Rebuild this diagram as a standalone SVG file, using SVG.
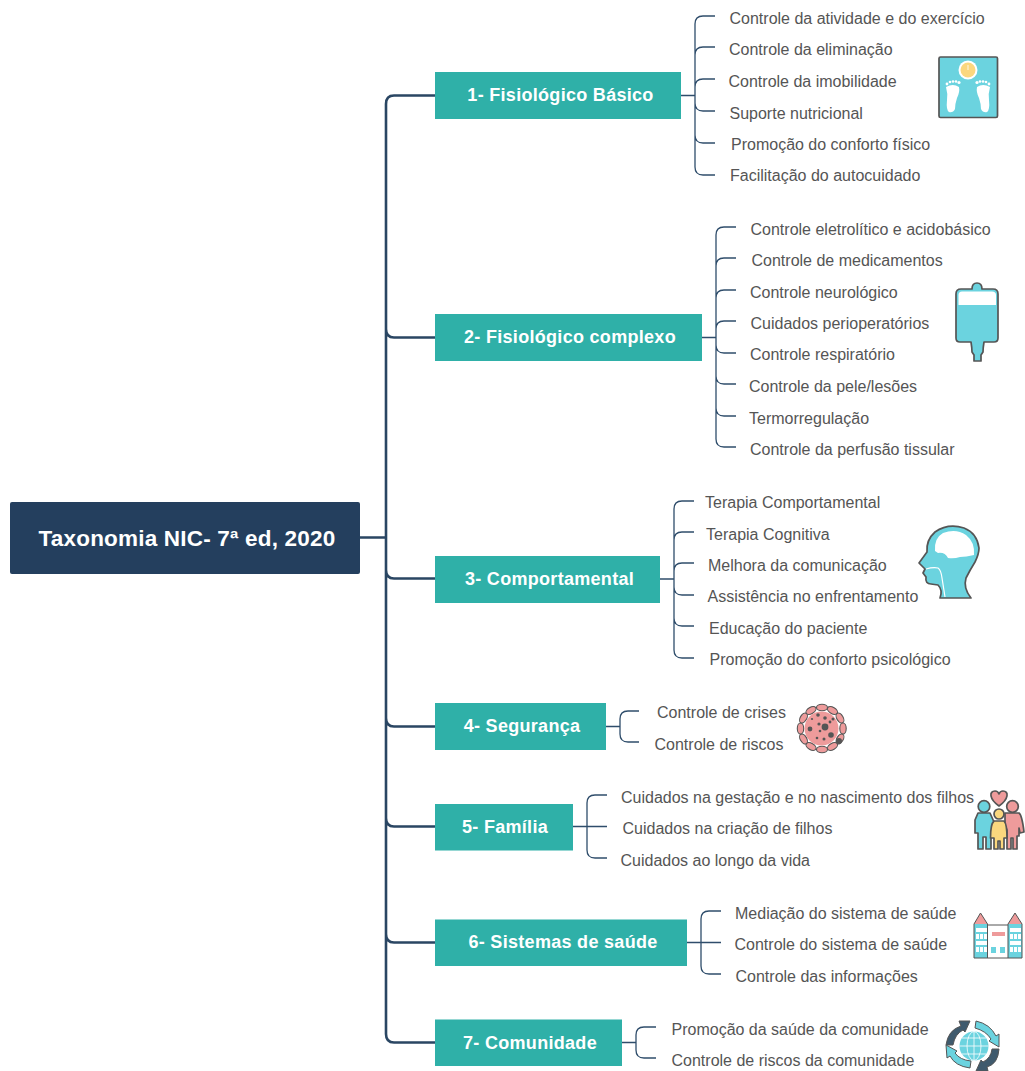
<svg xmlns="http://www.w3.org/2000/svg" width="1025" height="1071" viewBox="0 0 1025 1071">
<style>
text{font-family:"Liberation Sans",Arial,sans-serif}
.root{fill:#243f5e}
.box{fill:#2fb0a8}
.rt{fill:#fff;font-size:22.5px;font-weight:700;text-anchor:middle;letter-spacing:.2px}
.bt{fill:#fff;font-size:18px;font-weight:700;text-anchor:middle;letter-spacing:.3px}
.lt{fill:#555;font-size:16px}
.main{fill:none;stroke:#2a4663;stroke-width:2.6}
.sub{fill:none;stroke:#2f4d6b;stroke-width:1.3}
.o{stroke:#555;stroke-width:1.7;stroke-linejoin:round;stroke-linecap:round}
.c{fill:#6bd3df}.w{fill:#fff}.p{fill:#ee9b9b}.y{fill:#fbd77e}.d{fill:#555}.n{fill:#3f5a6d}
</style>
<g id="connectors">
<path class="main" d="M360 537.500H386M435 95.500H394Q386 95.500 386 104V1034Q386 1042.500 394 1042.500H435M386 329Q386 337.500 394 337.500H435M386 570Q386 578.500 394 578.500H435M386 718Q386 726.500 394 726.500H435M386 818Q386 826.500 394 826.500H435M386 934Q386 942.500 394 942.500H435"/>
<path class="sub" d="M681 95.500H695M715 16H703Q695 16 695 24V167Q695 175 703 175H715M715 47H703Q695 47 695 55M715 79H703Q695 79 695 87M715 111H703Q695 111 695 103M715 143H703Q695 143 695 135"/>
<path class="sub" d="M702 337.500H716M736 227H724Q716 227 716 235V439Q716 447 724 447H736M736 258H724Q716 258 716 266M736 290H724Q716 290 716 298M736 321H724Q716 321 716 329M736 353H724Q716 353 716 345M736 384H724Q716 384 716 376M736 416H724Q716 416 716 408"/>
<path class="sub" d="M660 579H674M694 501H682Q674 501 674 509V650Q674 658 682 658H694M694 532H682Q674 532 674 540M694 563H682Q674 563 674 571M694 595H682Q674 595 674 587M694 626H682Q674 626 674 618"/>
<path class="sub" d="M606 726.500H620M639 711H628Q620 711 620 719V734Q620 742 628 742H639"/>
<path class="sub" d="M573 826.500H607M607 795H595Q587 795 587 803V850Q587 858 595 858H607"/>
<path class="sub" d="M687 942.500H721M721 911H709Q701 911 701 919V966Q701 974 709 974H721"/>
<path class="sub" d="M622 1042.500H636M656 1027H644Q636 1027 636 1035V1050Q636 1058 644 1058H656"/>
</g>
<g id="root"><rect class="root" x="10" y="502" width="350" height="72" rx="2"/><text class="rt" x="187" y="546">Taxonomia NIC- 7ª ed, 2020</text></g>
<g id="node-1"><rect class="box" x="435" y="72" width="246" height="47"/><text class="bt" x="560.500" y="101">1- Fisiológico Básico</text>
<text class="lt" x="729.500" y="24">Controle da atividade e do exercício</text><text class="lt" x="729" y="55">Controle da eliminação</text><text class="lt" x="728.500" y="87">Controle da imobilidade</text><text class="lt" x="729.500" y="119">Suporte nutricional</text><text class="lt" x="731" y="150">Promoção do conforto físico</text><text class="lt" x="730" y="181">Facilitação do autocuidado</text></g>
<g id="node-2"><rect class="box" x="435" y="314" width="267" height="47"/><text class="bt" x="570" y="343">2- Fisiológico complexo</text>
<text class="lt" x="750.500" y="235">Controle eletrolítico e acidobásico</text><text class="lt" x="751.500" y="266">Controle de medicamentos</text><text class="lt" x="750" y="298">Controle neurológico</text><text class="lt" x="750.500" y="329">Cuidados perioperatórios</text><text class="lt" x="750" y="360">Controle respiratório</text><text class="lt" x="749" y="392">Controle da pele/lesões</text><text class="lt" x="749" y="424">Termorregulação</text><text class="lt" x="750" y="455">Controle da perfusão tissular</text></g>
<g id="node-3"><rect class="box" x="435" y="556" width="225" height="47"/><text class="bt" x="549.500" y="585">3- Comportamental</text>
<text class="lt" x="705" y="508">Terapia Comportamental</text><text class="lt" x="706" y="540">Terapia Cognitiva</text><text class="lt" x="708" y="571">Melhora da comunicação</text><text class="lt" x="707.500" y="602">Assistência no enfrentamento</text><text class="lt" x="709" y="634">Educação do paciente</text><text class="lt" x="709.500" y="665">Promoção do conforto psicológico</text></g>
<g id="node-4"><rect class="box" x="435" y="703" width="171" height="47"/><text class="bt" x="522" y="732">4- Segurança</text>
<text class="lt" x="657" y="718">Controle de crises</text><text class="lt" x="654.500" y="750">Controle de riscos</text></g>
<g id="node-5"><rect class="box" x="435" y="804" width="138" height="46.500"/><text class="bt" x="505" y="833">5- Família</text>
<text class="lt" x="621" y="803">Cuidados na gestação e no nascimento dos filhos</text><text class="lt" x="622.500" y="834">Cuidados na criação de filhos</text><text class="lt" x="620.500" y="866">Cuidados ao longo da vida</text></g>
<g id="node-6"><rect class="box" x="435" y="919.500" width="252" height="46.500"/><text class="bt" x="563" y="948">6- Sistemas de saúde</text>
<text class="lt" x="735" y="919">Mediação do sistema de saúde</text><text class="lt" x="734.500" y="950">Controle do sistema de saúde</text><text class="lt" x="735.500" y="982">Controle das informações</text></g>
<g id="node-7"><rect class="box" x="435" y="1019.500" width="187" height="46.500"/><text class="bt" x="530" y="1049">7- Comunidade</text>
<text class="lt" x="671.500" y="1035">Promoção da saúde da comunidade</text><text class="lt" x="671.500" y="1066">Controle de riscos da comunidade</text></g>
<g id="icon-scale"><rect class="c o" x="939" y="57" width="58.500" height="60.500" rx="1.500"/><circle class="w" cx="968" cy="70" r="9.500"/><circle class="y" cx="968" cy="70" r="7.500"/><path class="w" d="M967.600 65H968.400V70H967.600Z"/>
<path class="w" d="M946 87Q953 83 959 87Q960 92 957 98Q955 104 955 109Q953 113 949 112Q946 110 947 100Q948 94 946 87ZM990 87Q983 83 977 87Q976 92 979 98Q981 104 981 109Q983 113 987 112Q990 110 989 100Q988 94 990 87Z"/>
<g class="w"><circle cx="947" cy="84" r="1.400"/><circle cx="950" cy="82" r="1.300"/><circle cx="953" cy="81.500" r="1.300"/><circle cx="956" cy="81.500" r="1.300"/><circle cx="959" cy="82.500" r="1.600"/><circle cx="977" cy="82.500" r="1.600"/><circle cx="980" cy="81.500" r="1.300"/><circle cx="983" cy="81.500" r="1.300"/><circle cx="986" cy="82" r="1.300"/><circle cx="989" cy="84" r="1.400"/></g></g>
<g id="icon-iv"><path class="c o" d="M961 289H972Q972 283 977 283Q982 283 982 289H993Q998 289 998 294V338Q998 342 994 342H984Q983 348 983 352L981 355V361H974V355L972 352Q972 348 971 342H960Q956 342 956 338V294Q956 289 961 289Z"/>
<path class="w" d="M958.500 305V295Q958.500 291.500 962 291.500H992Q996 291.500 996 295V305Z"/><circle class="c" cx="977" cy="287" r="1.800"/></g>
<g id="icon-head"><path class="c o" d="M940 598H971Q963 588 966 578Q970 570 975 562Q979 554 979 548Q977 533 964 528Q948 523 935 532Q926 540 927 552L919 563L925 569L923 573L926 577Q925 584 931 584L938 585Q943 590 940 598Z"/>
<path class="w" d="M935 551Q934 538 943 533Q956 528 966 535Q975 542 974 555Q966 557 960 557Q954 559 948 558Q945 552 938 553Z"/>
<path fill="none" stroke="#fff" stroke-width="1.200" d="M926 569Q933 567 938 568Q941 570 942 578L945 597"/></g>
<g id="icon-virus"><g class="p" stroke="#555" stroke-width="1.100"><ellipse cx="822" cy="707.500" rx="5.500" ry="3.200"/><ellipse cx="832.500" cy="710.500" rx="5.500" ry="3.200" transform="rotate(30 832.500 710.500)"/><ellipse cx="840" cy="718" rx="5.500" ry="3.200" transform="rotate(60 840 718)"/><ellipse cx="843" cy="728.500" rx="5.500" ry="3.200" transform="rotate(90 843 728.500)"/><ellipse cx="840" cy="739" rx="5.500" ry="3.200" transform="rotate(120 840 739)"/><ellipse cx="832.500" cy="746.500" rx="5.500" ry="3.200" transform="rotate(150 832.500 746.500)"/><ellipse cx="822" cy="749.500" rx="5.500" ry="3.200"/><ellipse cx="811" cy="746.500" rx="5.500" ry="3.200" transform="rotate(30 811 746.500)"/><ellipse cx="803.500" cy="739" rx="5.500" ry="3.200" transform="rotate(60 803.500 739)"/><ellipse cx="800.500" cy="728.500" rx="5.500" ry="3.200" transform="rotate(90 800.500 728.500)"/><ellipse cx="803.500" cy="718" rx="5.500" ry="3.200" transform="rotate(120 803.500 718)"/><ellipse cx="811" cy="710.500" rx="5.500" ry="3.200" transform="rotate(150 811 710.500)"/></g>
<circle class="p" cx="821.500" cy="728.500" r="17"/>
<g class="d"><circle cx="825" cy="727" r="3.400"/><circle cx="831" cy="735" r="2.800"/><circle cx="830" cy="722" r="1.400"/><circle cx="810" cy="729" r="2.400"/><circle cx="820" cy="731" r="1.300"/><circle cx="819" cy="724" r="1.600"/><circle cx="818" cy="715" r="1.800"/><circle cx="825" cy="718" r="1.800"/><circle cx="833" cy="719" r="1.500"/><circle cx="812" cy="719" r="1.100"/><circle cx="817" cy="738" r="1.300"/><circle cx="824" cy="739" r="1.500"/><circle cx="839" cy="741" r="3"/></g></g>
<g id="icon-family"><path class="p o" d="M999 806C989 799 989 791 995 791Q998 791 999 794Q1000 791 1003 791C1009 791 1009 799 999 806Z"/>
<g class="o"><circle class="p" cx="1012.500" cy="806.500" r="5.800"/><path class="p" d="M1005 813H1019Q1022 815 1024 832L1020 833L1019 828V836H1017V849H1013V838H1011V849H1007V830L1005 825Z"/><circle class="c" cx="984" cy="806.500" r="5.800"/><path class="c" d="M978 813H990L994 822V833H991V849H986V837H983V849H978V833H975V820Z"/><circle class="y" cx="999" cy="814" r="5"/><path class="y" d="M994 821H1004Q1007 824 1007 838H1004V849H1000V841H998V849H994V838H990.500Q990.500 824 994 821Z"/></g></g>
<g id="icon-hospital"><rect class="c" x="974" y="924" width="14" height="34"/><rect class="c" x="1008" y="924" width="14" height="34"/><rect class="w" x="988" y="925" width="20" height="33"/><path class="p" d="M974 924L980.500 913L987.500 924ZM1008 924L1015 913L1022 924Z"/>
<path fill="none" stroke="#555" stroke-width="1" d="M974 958V924L980.500 913L987.500 924V958M1022 958V924L1015 913L1008 924V958M988 925H1008"/><path stroke="#555" stroke-width="1" d="M974 958H1022"/>
<g class="w"><rect x="976" y="928" width="11" height="4"/><rect x="976" y="934" width="3" height="5"/><rect x="980" y="934" width="3" height="5"/><rect x="984" y="934" width="3" height="5"/><rect x="976" y="941" width="11" height="4"/><rect x="976" y="947" width="3" height="5"/><rect x="980" y="947" width="3" height="5"/><rect x="984" y="947" width="3" height="5"/><rect x="1010" y="928" width="11" height="4"/><rect x="1010" y="934" width="3" height="5"/><rect x="1014" y="934" width="3" height="5"/><rect x="1018" y="934" width="3" height="5"/><rect x="1010" y="941" width="11" height="4"/><rect x="1010" y="947" width="3" height="5"/><rect x="1014" y="947" width="3" height="5"/><rect x="1018" y="947" width="3" height="5"/></g>
<rect class="p" x="992" y="932" width="13" height="4"/><rect class="c" x="991" y="947" width="5" height="6"/><rect class="c" x="1000" y="947" width="5" height="6"/></g>
<g id="icon-globe"><circle class="c" cx="974" cy="1046" r="14.500"/><g fill="none" stroke="#fff" stroke-width=".8"><ellipse cx="974" cy="1046" rx="7" ry="14.500"/><path d="M959.500 1046H988.500M962 1038H986M962 1054H986M974 1031.500V1060.500"/></g>
<g stroke="#555" stroke-width="1"><path class="n" d="M946 1045Q948 1030 961 1026L959 1021L970 1021L965 1032L963 1030Q955 1034 953 1045Z"/><path class="c" d="M976 1021Q990 1024 996 1036L999 1034L999 1047L989 1041L991 1039Q986 1031 975 1028Z"/><path class="n" d="M999 1049Q998 1064 987 1067L988 1071H976L981 1060L983 1062Q991 1058 992 1049Z"/><path class="c" d="M970 1068Q955 1066 950 1056L947 1058L946 1045L957 1051L955 1053Q960 1060 971 1061Z"/></g></g>
</svg>
